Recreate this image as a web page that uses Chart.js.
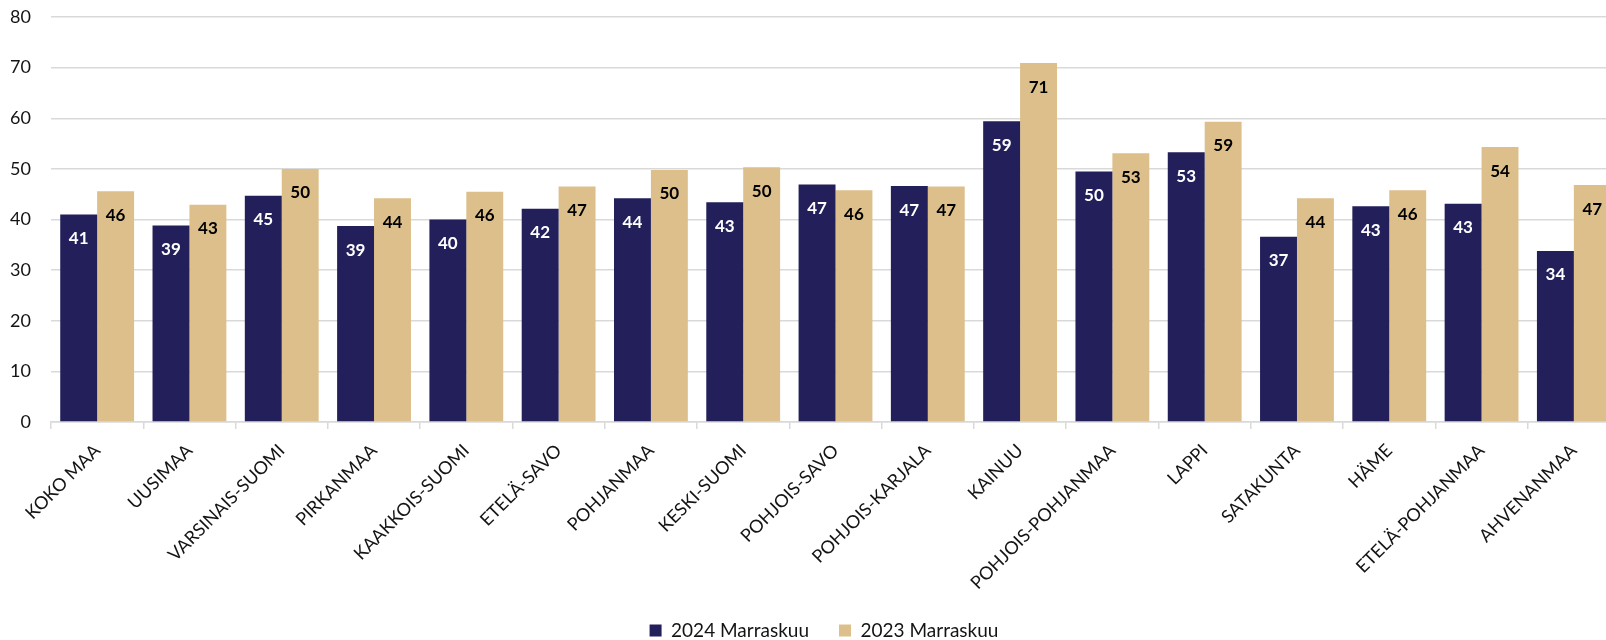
<!DOCTYPE html>
<html>
<head>
<meta charset="utf-8">
<script src="https://cdn.jsdelivr.net/npm/chart.js@4/dist/chart.umd.min.js"></script>
<style>
    html, body { margin: 0; padding: 0; background: #fff; overflow: hidden; }
    #wrap { width: 1620px; height: 640px; position: relative; }
</style>
</head>
<body>
<div id="wrap"><canvas id="chart"></canvas></div>
<script>
// Maakunnat
const regions = [
    'KOKO MAA', 'UUSIMAA', 'VARSINAIS-SUOMI', 'PIRKANMAA', 'KAAKKOIS-SUOMI',
    'ETELÄ-SAVO', 'POHJANMAA', 'KESKI-SUOMI', 'POHJOIS-SAVO', 'POHJOIS-KARJALA',
    'KAINUU', 'POHJOIS-POHJANMAA', 'LAPPI', 'SATAKUNTA', 'HÄME',
    'ETELÄ-POHJANMAA', 'AHVENANMAA'
];

// Arvot luettu kuvasta
const values2024 = [41.0, 38.8, 44.7, 38.7, 40.0, 42.1, 44.2, 43.4, 46.9, 46.6, 59.4, 49.5, 53.3, 36.6, 42.6, 43.1, 33.8];
const values2023 = [45.6, 42.9, 50.0, 44.2, 45.5, 46.5, 49.8, 50.3, 45.8, 46.5, 70.9, 53.1, 59.3, 44.2, 45.8, 54.3, 46.8];

const seriesNames = ['2024 Marraskuu', '2023 Marraskuu'];
const yTicks = [0, 10, 20, 30, 40, 50, 60, 70, 80];

const COLORS = {
    navy: 'rgb(34, 31, 91)',
    tan: 'rgb(220, 191, 138)',
    grid: 'rgb(217, 217, 217)',
    text: 'rgb(20, 20, 20)'
};

const FONT = "Lato, 'Open Sans', sans-serif";

// Arvot palkkien sisään
const barLabels = {
    id: 'barLabels',
    afterDatasetsDraw(chart) {
        const ctx = chart.ctx;
        ctx.save();
        ctx.font = 'bold 17px ' + FONT;
        ctx.textAlign = 'center';
        ctx.textBaseline = 'middle';
        chart.data.datasets.forEach((ds, i) => {
            const meta = chart.getDatasetMeta(i);
            ctx.fillStyle = i === 0 ? '#ffffff' : '#000000';
            meta.data.forEach((bar, j) => {
                ctx.fillText(String(Math.round(ds.data[j])), bar.x, bar.y + 24);
            });
        });
        ctx.restore();
    }
};

// Selite hieman alemmas ja oikealle, x-akselin tekstit saavat ulottua alemmas
const layoutTweak = {
    id: 'layoutTweak',
    afterLayout(chart) {
        const lg = chart.legend;
        if (lg) {
            lg.top += 10; lg.bottom += 10;
            lg.left += 14; lg.right += 14;
        }
        chart.scales.x.bottom += 40;
    }
};

new Chart(document.getElementById('chart'), {
    type: 'bar',
    data: {
        labels: regions,
        datasets: [
            { label: seriesNames[0], data: values2024, backgroundColor: COLORS.navy },
            { label: seriesNames[1], data: values2023, backgroundColor: COLORS.tan }
        ]
    },
    options: {
        responsive: true,
        maintainAspectRatio: false,
        animation: false,
        layout: { padding: { top: 17, right: 0, left: 0, bottom: 0 } },
        datasets: { bar: { categoryPercentage: 0.8, barPercentage: 1.0 } },
        plugins: {
            legend: {
                position: 'bottom',
                labels: {
                    color: COLORS.text,
                    font: { family: FONT, size: 19 },
                    boxWidth: 12,
                    boxHeight: 12,
                    padding: 30
                }
            },
            tooltip: { enabled: false }
        },
        scales: {
            x: {
                grid: {
                    drawOnChartArea: false,
                    color: COLORS.grid,
                    lineWidth: 1.5,
                    tickLength: 7
                },
                border: { color: COLORS.grid, width: 1.5 },
                ticks: {
                    color: COLORS.text,
                    font: { family: FONT, size: 18 },
                    minRotation: 45,
                    maxRotation: 45,
                    autoSkip: false,
                    padding: 11
                },
                afterFit: s => { s.height = 159; }
            },
            y: {
                min: 0,
                max: 80,
                afterBuildTicks: s => { s.ticks = yTicks.map(v => ({ value: v })); },
                grid: { color: COLORS.grid, lineWidth: 1.5, drawTicks: false },
                border: { display: false },
                ticks: {
                    color: COLORS.text,
                    font: { family: FONT, size: 18 },
                    padding: 20
                },
                afterFit: s => { s.width = 51; s.paddingTop = 0; }
            }
        }
    },
    plugins: [barLabels, layoutTweak]
});
</script>
</body>
</html>
